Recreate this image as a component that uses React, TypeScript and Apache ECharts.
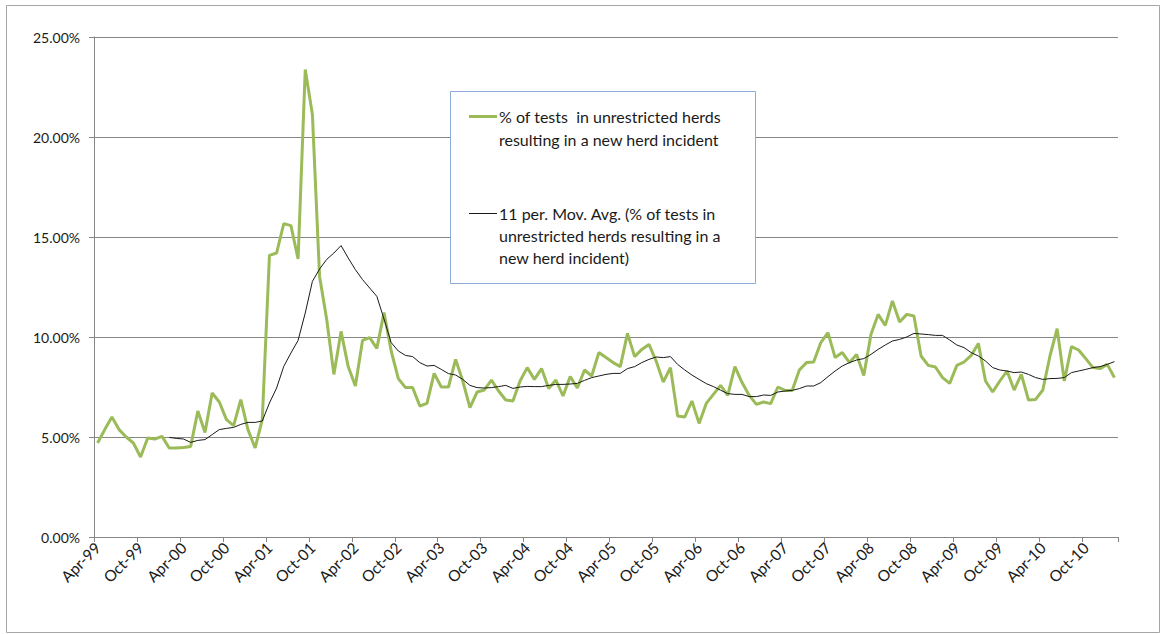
import React, { useEffect, useRef } from "react";
import * as echarts from "echarts";

const MONTH_NAMES = ["Jan", "Feb", "Mar", "Apr", "May", "Jun", "Jul", "Aug", "Sep", "Oct", "Nov", "Dec"];
const START_YEAR = 1999;
const START_MONTH = 3; // April
const N_MONTHS = 143; // Apr-99 .. Feb-11

const categories: string[] = [];
for (let k = 0; k < N_MONTHS; k++) {
  const m = (START_MONTH + k) % 12;
  const y = START_YEAR + Math.floor((START_MONTH + k) / 12);
  categories.push(`${MONTH_NAMES[m]}-${String(y % 100).padStart(2, "0")}`);
}

const SERIES_NAME = "% of tests in unrestricted herds resulting in a new herd incident";
const MA_NAME = "11 per. Mov. Avg. (% of tests in unrestricted herds resulting in a new herd incident)";

// monthly % of tests (Apr-99 .. Feb-11)
const pctTests: number[] = [
  4.70, 5.37, 6.00, 5.37, 5.00, 4.70, 4.00, 4.95, 4.90, 5.03,
  4.45, 4.45, 4.48, 4.53, 6.30, 5.23, 7.20, 6.75, 5.87, 5.57,
  6.87, 5.37, 4.45, 5.87, 14.08, 14.20, 15.67, 15.57, 13.90, 23.37,
  21.12, 13.03, 10.87, 8.13, 10.28, 8.52, 7.55, 9.83, 9.97, 9.43,
  11.22, 9.30, 7.92, 7.47, 7.47, 6.55, 6.68, 8.18, 7.50, 7.50,
  8.88, 7.80, 6.47, 7.25, 7.35, 7.85, 7.30, 6.85, 6.80, 7.80,
  8.47, 7.88, 8.42, 7.42, 7.85, 7.05, 8.02, 7.45, 8.35, 8.05,
  9.22, 8.97, 8.72, 8.52, 10.18, 9.02, 9.38, 9.63, 8.80, 7.75,
  8.47, 6.05, 6.00, 6.80, 5.68, 6.68, 7.13, 7.58, 7.08, 8.52,
  7.72, 7.08, 6.63, 6.75, 6.67, 7.50, 7.33, 7.33, 8.35, 8.72,
  8.75, 9.72, 10.22, 8.97, 9.22, 8.72, 9.13, 8.08, 10.13, 11.13,
  10.58, 11.80, 10.75, 11.13, 11.05, 9.05, 8.58, 8.50, 7.97, 7.68,
  8.58, 8.75, 9.08, 9.68, 7.80, 7.25, 7.80, 8.30, 7.35, 8.13,
  6.85, 6.88, 7.35, 9.05, 10.42, 7.80, 9.52, 9.35, 8.92, 8.47,
  8.42, 8.63, 7.97,
];

// 11-period moving average as plotted (first 10 months empty)
const movAvg: (number | null)[] = [
  null, null, null, null, null, null, null, null, null, null,
  4.98, 4.93, 4.90, 4.73, 4.83, 4.87, 5.12, 5.37, 5.43, 5.48,
  5.63, 5.73, 5.73, 5.80, 6.70, 7.45, 8.53, 9.20, 9.83, 11.20,
  12.78, 13.40, 13.88, 14.20, 14.57, 13.95, 13.37, 12.87, 12.45, 12.03,
  10.90, 9.72, 9.30, 9.08, 9.02, 8.72, 8.55, 8.58, 8.38, 8.17,
  8.10, 7.88, 7.58, 7.47, 7.45, 7.47, 7.52, 7.58, 7.43, 7.50,
  7.53, 7.52, 7.52, 7.58, 7.63, 7.63, 7.65, 7.68, 7.83, 7.97,
  8.05, 8.13, 8.18, 8.18, 8.42, 8.52, 8.72, 8.88, 9.00, 8.97,
  9.02, 8.63, 8.35, 8.10, 7.88, 7.67, 7.52, 7.34, 7.17, 7.13,
  7.13, 7.02, 7.02, 7.10, 7.08, 7.25, 7.30, 7.33, 7.42, 7.55,
  7.55, 7.72, 8.02, 8.30, 8.55, 8.72, 8.85, 8.92, 9.13, 9.38,
  9.60, 9.80, 9.88, 10.00, 10.18, 10.15, 10.12, 10.08, 10.08, 9.85,
  9.60, 9.47, 9.22, 9.05, 8.80, 8.47, 8.35, 8.30, 8.22, 8.25,
  8.13, 7.97, 7.88, 7.92, 7.93, 7.97, 8.22, 8.30, 8.38, 8.47,
  8.52, 8.63, 8.77,
];

const Y_MIN = 0;
const Y_MAX = 25;
const Y_STEP = 5;

const LEGEND_LINES_1 = ["% of tests  in unrestricted herds", "resulting in a new herd incident"];
const LEGEND_LINES_2 = ["11 per. Mov. Avg. (% of tests in", "unrestricted herds resulting in a", "new herd incident)"];

const FONT = "Lato, 'Open Sans', sans-serif";
const GREEN = "#9bbb59";
const GRID_COLOR = "#868686";

export default function App() {
  const ref = useRef<HTMLDivElement>(null);

  useEffect(() => {
    if (!ref.current) return;
    const chart = echarts.init(ref.current, undefined, { renderer: "svg" });
    chart.setOption({
      animation: false,
      backgroundColor: "#ffffff",
      grid: { left: 94, right: 46, top: 37, bottom: 97, containLabel: false },
      xAxis: {
        type: "category",
        data: categories,
        boundaryGap: true,
        axisLine: { lineStyle: { color: GRID_COLOR, width: 1 } },
        axisTick: { show: true, interval: 5, alignWithLabel: false, length: 5, lineStyle: { color: GRID_COLOR } },
        axisLabel: {
          interval: 5,
          rotate: 45,
          margin: 8,
          color: "#1a1a1a",
          fontFamily: FONT,
          fontSize: 15.5,
        },
        splitLine: { show: false },
      },
      yAxis: {
        type: "value",
        min: Y_MIN,
        max: Y_MAX,
        interval: Y_STEP,
        axisLine: { show: true, lineStyle: { color: GRID_COLOR, width: 1 } },
        axisTick: { show: true, length: 5, lineStyle: { color: GRID_COLOR } },
        axisLabel: {
          margin: 14,
          color: "#1a1a1a",
          fontFamily: FONT,
          fontSize: 14,
          formatter: (v: number) => `${v.toFixed(2)}%`,
        },
        splitLine: { show: true, lineStyle: { color: GRID_COLOR, width: 1 } },
      },
      series: [
        {
          name: SERIES_NAME,
          type: "line",
          data: pctTests,
          symbol: "none",
          lineStyle: { color: GREEN, width: 3 },
          itemStyle: { color: GREEN },
          z: 2,
        },
        {
          name: MA_NAME,
          type: "line",
          data: movAvg,
          symbol: "none",
          connectNulls: false,
          lineStyle: { color: "#1a1a1a", width: 1 },
          itemStyle: { color: "#1a1a1a" },
          z: 3,
        },
      ],
      graphic: [
        {
          type: "rect",
          shape: { x: 6.5, y: 5.5, width: 1153, height: 627 },
          style: { fill: "none", stroke: "#a6a6a6", lineWidth: 1 },
          z: 0,
          silent: true,
        },
        {
          type: "rect",
          shape: { x: 450.5, y: 91.5, width: 305, height: 192 },
          style: { fill: "#ffffff", stroke: "#8eaadb", lineWidth: 1 },
          z: 10,
          silent: true,
        },
        {
          type: "line",
          shape: { x1: 469, y1: 116.5, x2: 497, y2: 116.5 },
          style: { stroke: GREEN, lineWidth: 3 },
          z: 11,
          silent: true,
        },
        {
          type: "text",
          x: 499,
          y: 105,
          style: {
            text: LEGEND_LINES_1.join("\n"),
            font: `16px ${FONT}`,
            lineHeight: 23,
            fill: "#1a1a1a",
            textVerticalAlign: "top",
            verticalAlign: "top",
          },
          z: 11,
          silent: true,
        },
        {
          type: "line",
          shape: { x1: 469, y1: 213.5, x2: 497, y2: 213.5 },
          style: { stroke: "#1a1a1a", lineWidth: 1 },
          z: 11,
          silent: true,
        },
        {
          type: "text",
          x: 499,
          y: 202,
          style: {
            text: LEGEND_LINES_2.join("\n"),
            font: `16px ${FONT}`,
            lineHeight: 22,
            fill: "#1a1a1a",
            textVerticalAlign: "top",
            verticalAlign: "top",
          },
          z: 11,
          silent: true,
        },
      ],
    });
    return () => chart.dispose();
  }, []);

  return (
    <div
      ref={ref}
      style={{ position: "fixed", left: 0, top: 0, width: 1164, height: 634 }}
    />
  );
}
